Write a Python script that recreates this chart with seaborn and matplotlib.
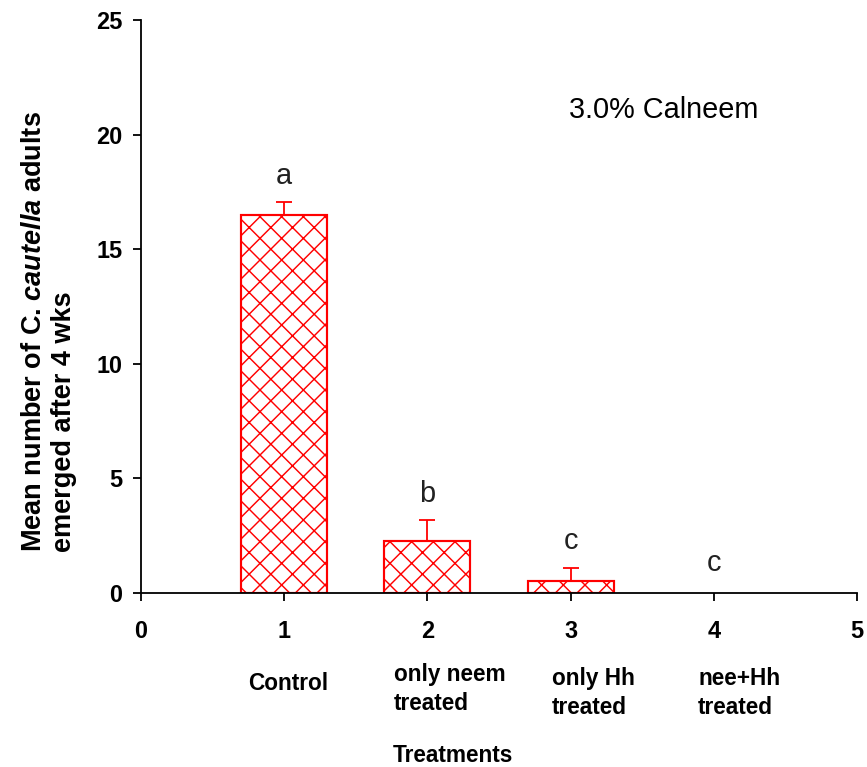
import matplotlib
matplotlib.use("Agg")
import matplotlib.pyplot as plt
import seaborn as sns
import numpy as np
import pandas as pd

# ---- data ----
treat_pos = [1, 2, 3, 4]
treat_labels = ["Control", "only neem\ntreated", "only Hh\ntreated", "nee+Hh\ntreated"]
mean_adults = [16.5, 2.27, 0.52, 0.0]
se_upper = [0.55, 0.9, 0.57, 0.0]
sig_letters = ["a", "b", "c", "c"]
y_ticks = [0, 5, 10, 15, 20, 25]
x_ticks = [0, 1, 2, 3, 4, 5]

sns.set_style("white")
plt.rcParams["font.family"] = ["Liberation Sans", "DejaVu Sans"]
plt.rcParams["text.color"] = "black"
plt.rcParams["axes.labelcolor"] = "black"
plt.rcParams["xtick.color"] = "black"
plt.rcParams["ytick.color"] = "black"
plt.rcParams["mathtext.fontset"] = "custom"
plt.rcParams["mathtext.it"] = "Liberation Sans:italic:bold"
plt.rcParams["mathtext.rm"] = "Liberation Sans:bold"
plt.rcParams["mathtext.bf"] = "Liberation Sans:bold"
plt.rcParams["hatch.color"] = "#ff2020"
plt.rcParams["hatch.linewidth"] = 0.8

DPI = 130
fig = plt.figure(figsize=(867 / DPI, 767 / DPI), dpi=DPI)
ax = fig.add_axes([141 / 867, 1 - 593 / 767, (857 - 141) / 867, (593 - 20) / 767])

df = pd.DataFrame({"pos": treat_pos, "mean": mean_adults})
sns.barplot(data=df, x="pos", y="mean", native_scale=True, width=0.6,
            color="white", edgecolor="red", linewidth=1.2, hatch="xx",
            errorbar=None, ax=ax, zorder=2)
for p in ax.patches:
    p.set_facecolor("white")
    p.set_edgecolor("red")
    p.set_hatch("xx")
    if p.get_height() == 0:
        p.set_linewidth(0)

# error bars (upper only), skipping zero-height ones
xp = np.array(treat_pos, dtype=float)
m = np.array(mean_adults)
e = np.array(se_upper)
mask = e > 0
ax.errorbar(xp[mask], m[mask], yerr=[np.zeros(mask.sum()), e[mask]],
            fmt="none", ecolor="red", elinewidth=1.0, capsize=4.5,
            capthick=1.0, zorder=3)

# significance letters
for xi, mi, ei, lt in zip(treat_pos, mean_adults, se_upper, sig_letters):
    ax.text(xi, mi + ei + (0.55 if ei > 0 else 0.7), lt, ha="center", va="bottom",
            fontsize=16, color="#222222")

ax.set_xlim(0, 5)
ax.set_ylim(0, 25)
ax.set_xticks(x_ticks)
ax.set_xticklabels([str(t) for t in x_ticks], fontweight="bold", fontsize=13)
ax.set_yticks(y_ticks)
ax.set_yticklabels([str(t) for t in y_ticks], fontweight="bold", fontsize=13)
ax.tick_params(axis="x", direction="out", length=4.4, width=1.0, pad=10.5,
               bottom=True, colors="black")
ax.tick_params(axis="y", direction="out", length=4.4, width=1.0, pad=6.0,
               left=True, colors="black")
ax.set_xlabel("")
ax.set_ylabel("")
for s in ["top", "right"]:
    ax.spines[s].set_visible(False)
for s in ["left", "bottom"]:
    ax.spines[s].set_color("black")
    ax.spines[s].set_linewidth(1.0)
    ax.spines[s].set_zorder(4)

# panel annotation
ax.text(0.730, 0.843, "3.0% Calneem", transform=ax.transAxes, ha="center",
        va="center", fontsize=16, color="black")

# category labels below the axis
cat_anchor_px = [(288, 684, "center"), (394, 689, "left"),
                 (552, 693, "left"), (698, 693, "left")]
for lab, (px, py, ha) in zip(treat_labels, cat_anchor_px):
    fig.text(px / 867, 1 - py / 767, lab, ha=ha, va="center",
             fontsize=12.5, fontweight="bold", linespacing=1.3, color="black")

fig.text(453 / 867, 1 - 756 / 767, "Treatments", ha="center", va="center",
         fontsize=12.5, fontweight="bold", color="black")

fig.text(49 / 867, 1 - 552 / 767,
         "Mean number of C. $\\mathit{cautella}$ adults\nemerged after 4 wks",
         rotation=90, ha="center", va="bottom", multialignment="left",
         fontsize=15, fontweight="bold", linespacing=1.2, color="black")

fig.savefig("out.png", dpi=DPI)
